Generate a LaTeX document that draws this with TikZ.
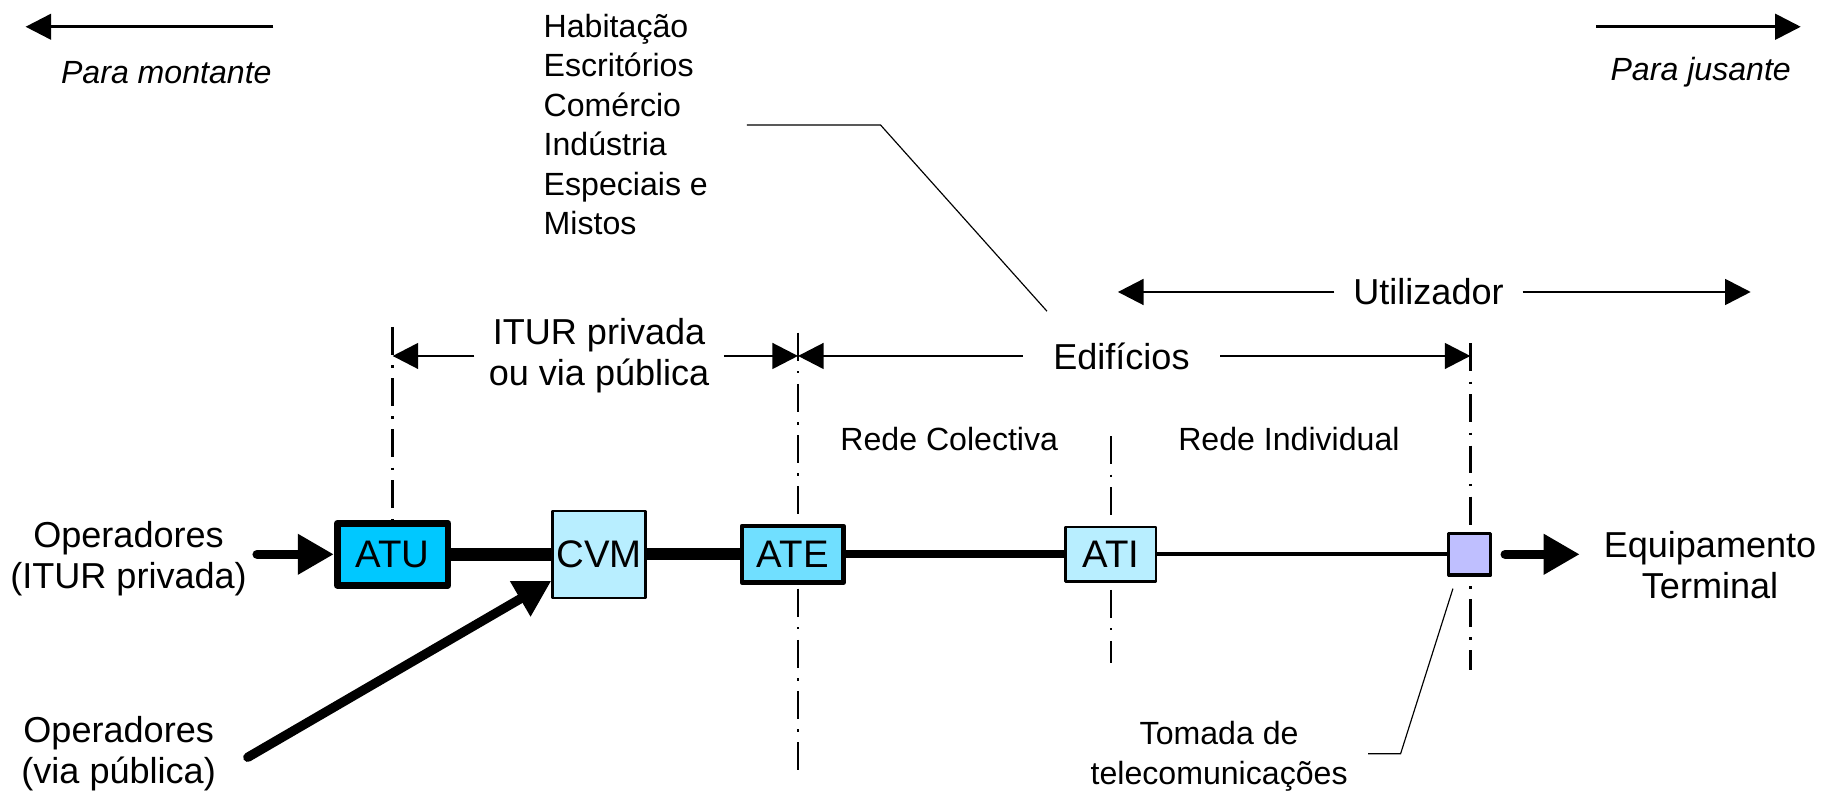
\documentclass[tikz,border=0pt]{standalone}
\usepackage{fontspec}
\setmainfont{Liberation Sans}
\usetikzlibrary{arrows.meta}

\definecolor{atucol}{HTML}{00C8FF}
\definecolor{atecol}{HTML}{70DFFF}
\definecolor{cvmcol}{HTML}{B8EEFF}
\definecolor{tomcol}{HTML}{BFBFFF}

\newcommand{\bigtxt}{\fontsize{15.5}{17.5}\selectfont}
\newcommand{\boxtxt}{\fontsize{16.5}{18}\selectfont}
\newcommand{\smalltxt}{\fontsize{13.8}{17}\selectfont}

\tikzset{
  box/.style={draw, inner sep=0pt, line join=round, font=\boxtxt},
  guide/.style={line width=1.1pt, dash pattern=on 12pt off 4.5pt on 1pt off 4.5pt},
  dimline/.style={line width=1.2pt, -{Triangle[length=11pt,width=11pt]}},
  feed/.style={line width=4pt, line cap=round, -{Triangle[length=15.5pt,width=16.5pt]}},
  leader/.style={line width=0.5pt},
}

\begin{document}
\begin{tikzpicture}[x=0.5pt,y=-0.5pt]
  \useasboundingbox (0,0) rectangle (1568,680);

  % direction arrows at the top
  \coordinate (ml) at (22,23);
  \coordinate (mr) at (235,23);
  \coordinate (jl) at (1372,23);
  \coordinate (jr) at (1548,23);
  \draw[dimline]
    (mr)
    --
    (ml);
  \draw[dimline]
    (jl)
    --
    (jr);
  \node[font=\smalltxt\itshape] (montante) at (143,62) {Para montante};
  \node[font=\smalltxt\itshape] (jusante) at (1462,62) {Para jusante};

  % building types
  \node[anchor=north west, inner sep=0pt, align=left, font=\smalltxt] (usos) at (467,11.5)
    {Habita\c{c}\~ao\\Escrit\'orios\\Com\'ercio\\Ind\'ustria\\Especiais e\\Mistos};
  \coordinate (ua) at (642,107.5);
  \coordinate (ub) at (757,107.5);
  \coordinate (uc) at (900,267.5);
  \draw[leader]
    (ua)
    --
    (ub)
    --
    (uc);

  % boundary lines
  \coordinate (g1) at (337.5,281);
  \coordinate (g2a) at (686,286);
  \coordinate (g2b) at (686,665);
  \coordinate (g3a) at (955,375);
  \coordinate (g3b) at (955,570);
  \coordinate (g4a) at (1264,295);
  \coordinate (g4b) at (1264,576);
  \draw[guide] (g1) -- (337.5,448);
  \draw[guide] (g2a) -- (g2b);
  \draw[guide] (g3a) -- (g3b);
  \draw[guide] (g4a) -- (g4b);

  % spans
  \node[font=\bigtxt, align=center, inner xsep=6pt] (itur) at (515,306) {ITUR privada\\ou via p\'ublica};
  \node[font=\bigtxt, inner xsep=13pt] (edif) at (964,306) {Edif\'icios};
  \node[font=\bigtxt, inner xsep=8pt] (util) at (1228,251) {Utilizador};
  \coordinate (s1) at (337.5,306);
  \coordinate (s2) at (686,306);
  \coordinate (s3) at (1264,306);
  \coordinate (u1) at (961,251);
  \coordinate (u2) at (1505,251);
  \draw[dimline] (itur.west) -- (s1);
  \draw[dimline] (itur.east) -- (s2);
  \draw[dimline] (edif.west) -- (s2);
  \draw[dimline] (edif.east) -- (s3);
  \draw[dimline] (util.west) -- (u1);
  \draw[dimline] (util.east) -- (u2);

  \node[font=\smalltxt] (redec) at (816,377) {Rede Colectiva};
  \node[font=\smalltxt] (redei) at (1108,377) {Rede Individual};

  % the chain
  \node[box, fill=atucol, line width=2.9pt, minimum width=47.6pt, minimum height=26.6pt] (atu) at (337.5,476.5) {ATU};
  \node[box, fill=cvmcol, line width=1pt, minimum width=40pt, minimum height=37.5pt] (cvm) at (515,476.5) {CVM};
  \node[box, fill=atecol, line width=1.9pt, minimum width=43.6pt, minimum height=24.4pt] (ate) at (681.5,476.5) {ATE};
  \node[box, fill=cvmcol, line width=1.1pt, minimum width=38.9pt, minimum height=23.4pt] (ati) at (955,476.5) {ATI};
  \node[box, fill=tomcol, line width=1.4pt, minimum width=18pt, minimum height=17.8pt] (tom) at (1263.5,476.5) {};

  \draw[line width=5.5pt] (atu) -- (cvm);
  \draw[line width=5pt] (cvm) -- (ate);
  \draw[line width=3.5pt] (ate) -- (ati);
  \draw[line width=1.7pt] (ati) -- (tom);

  \node[font=\bigtxt, align=center] (opi) at (110.5,480) {Operadores\\(ITUR privada)};
  \node[font=\bigtxt, align=center] (opp) at (102,648) {Operadores\\(via p\'ublica)};
  \node[font=\bigtxt, align=center] (equip) at (1470,486) {Equipamento\\Terminal};

  \coordinate (inp) at (221,476.5);
  \coordinate (opv) at (213,651);
  \coordinate (outp) at (1358,476.5);
  \draw[feed]
    (inp)
    --
    (atu.west);
  \draw[feed]
    (opv)
    --
    (cvm.209);
  \draw[feed, shorten <=5.5pt]
    (tom.east)
    --
    (outp);

  % socket label
  \node[font=\smalltxt, align=center] (tomtxt) at (1048,650) {Tomada de\\telecomunica\c{c}\~oes};
  \coordinate (ta) at (1176,648);
  \coordinate (tb) at (1204,648);
  \coordinate (tc) at (1249,506);
  \draw[leader]
    (ta)
    --
    (tb)
    --
    (tc);
\end{tikzpicture}
\end{document}
